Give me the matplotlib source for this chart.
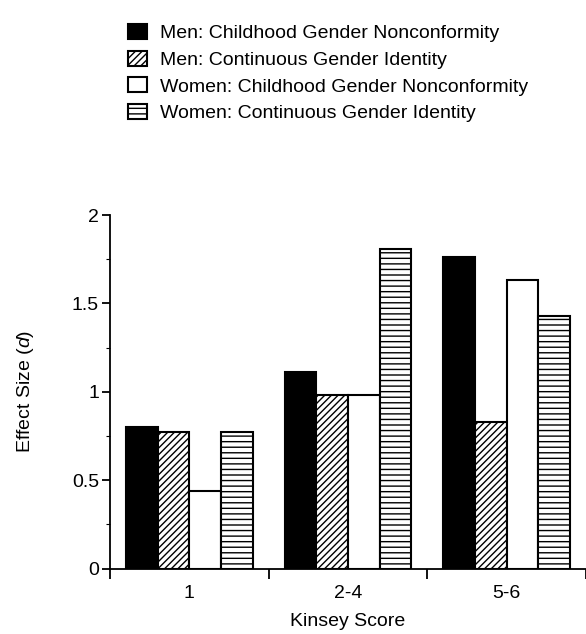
import numpy as np
import matplotlib
matplotlib.use('Agg')
import matplotlib.pyplot as plt

plt.rcParams['font.family'] = ['Liberation Sans', 'DejaVu Sans']
plt.rcParams['mathtext.fontset'] = 'custom'
plt.rcParams['mathtext.it'] = 'Liberation Sans:italic'
plt.rcParams['hatch.linewidth'] = 1.0

# data
groups = ['1', '2-4', '5-6']
series = ['Men: Childhood Gender Nonconformity',
          'Men: Continuous Gender Identity',
          'Women: Childhood Gender Nonconformity',
          'Women: Continuous Gender Identity']
men_cgn = [0.80, 1.11, 1.76]
men_cgi = [0.77, 0.98, 0.83]
women_cgn = [0.44, 0.98, 1.63]
women_cgi = [0.77, 1.81, 1.43]

FONT = 14

def main():
    fig = plt.figure(figsize=(5.86, 6.34), dpi=100)
    ax = fig.add_axes([110/586, 65.5/634, 476/586, 353.5/634])

    x = np.arange(len(groups))
    w = 0.2
    styles = [dict(facecolor='black', hatch=None),
              dict(facecolor='white', hatch='/////'),
              dict(facecolor='white', hatch=None),
              dict(facecolor='white', hatch='---')]
    vals = [men_cgn, men_cgi, women_cgn, women_cgi]
    for i, (v, st, lab) in enumerate(zip(vals, styles, series)):
        ax.bar(x + (i - 1.5)*w, v, w, label=lab, edgecolor='black',
               linewidth=1.5, **st)

    ax.set_xlim(-0.5, 2.5)
    ax.set_ylim(0, 2)
    ax.spines['top'].set_visible(False)
    ax.spines['right'].set_visible(False)
    ax.spines['left'].set_linewidth(1.3)
    ax.spines['bottom'].set_linewidth(1.3)
    ax.spines['left'].set_bounds(0, 2)

    # category labels centred, ticks at group boundaries
    ax.set_xticks([-0.5, 0.5, 1.5, 2.5])
    ax.set_xticklabels([])
    ax.set_xticks(x, minor=True)
    ax.set_xticklabels(groups, minor=True, fontsize=FONT)
    ax.tick_params(axis='x', which='major', direction='out', length=7, width=1.3)
    ax.tick_params(axis='x', which='minor', length=0, pad=12)

    ax.set_yticks([0, 0.5, 1, 1.5, 2])
    ax.set_yticklabels(['0', '0.5', '1', '1.5', '2'], fontsize=FONT)
    ax.set_yticks(np.arange(0.25, 2, 0.5), minor=True)
    ax.tick_params(axis='y', which='major', direction='out', length=6, width=1.3, pad=2)
    ax.tick_params(axis='y', which='minor', direction='out', length=3, width=0.8)

    ax.set_xlabel('Kinsey Score', fontsize=FONT, labelpad=8)
    ax.set_ylabel(r'Effect Size ($\it{d}$)', fontsize=FONT, labelpad=26)

    fig.legend(loc='upper left', bbox_to_anchor=(128/586, 1 - 24/634),
               frameon=False, fontsize=FONT, handlelength=1.0,
               handleheight=0.82, handletextpad=0.65, labelspacing=0.43,
               borderpad=0, borderaxespad=0)

    fig.savefig('out.png', dpi=100)

if __name__ == "__main__":
    main()
